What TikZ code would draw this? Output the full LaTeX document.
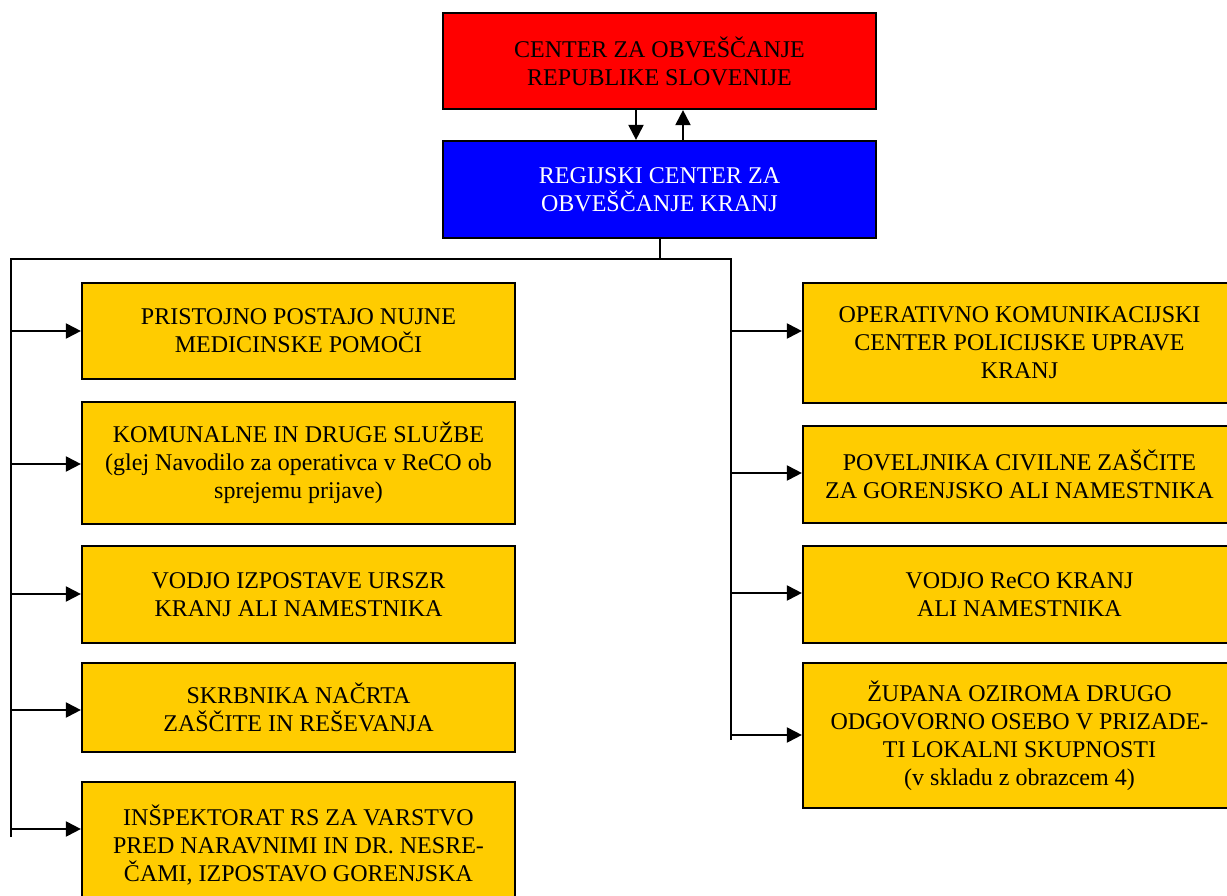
\documentclass[tikz,border=0pt]{standalone}
\usepackage{fontspec}
\setmainfont{Liberation Serif}
\usetikzlibrary{arrows.meta}
\definecolor{crvena}{HTML}{FF0000}
\definecolor{modra}{HTML}{0000FF}
\definecolor{rumena}{HTML}{FFCC00}
\begin{document}
\begin{tikzpicture}[x=1pt,y=-1pt,
  box/.style={draw=black,line width=2.2pt,minimum width=433pt,align=center,inner sep=0pt,
    font=\fontsize{24}{28}\selectfont},
  ybox/.style={box,fill=rumena},
  vod/.style={line width=2pt},
  puscica/.style={vod,-{Triangle[length=15pt,width=15pt]}}]
\useasboundingbox (0,0) rectangle (1227,896);
\pgfmathsetmacro{\lx}{298.5}
\pgfmathsetmacro{\rx}{1019.5}
\node[box,fill=crvena,minimum height=96pt] (center) at (659.5,61) {CENTER ZA OBVEŠČANJE\\REPUBLIKE SLOVENIJE};
\node[box,fill=modra,text=white,minimum height=97pt] (regija) at (659.5,189.5) {REGIJSKI CENTER ZA\\OBVEŠČANJE KRANJ};
\node[ybox,minimum height=96pt] (pnmp) at (\lx,331) {PRISTOJNO POSTAJO NUJNE\\MEDICINSKE POMOČI};
\node[ybox,minimum height=122pt] (komunala) at (\lx,463) {KOMUNALNE IN DRUGE SLUŽBE\\(glej Navodilo za operativca v ReCO ob\\sprejemu prijave)};
\node[ybox,minimum height=97pt] (urszr) at (\lx,594.5) {VODJO IZPOSTAVE URSZR\\KRANJ ALI NAMESTNIKA};
\node[ybox,minimum height=89pt] (skrbnik) at (\lx,707.5) {SKRBNIKA NAČRTA\\ZAŠČITE IN REŠEVANJA};
\node[ybox,minimum height=126pt] (inspektorat) at (\lx,845) {INŠPEKTORAT RS ZA VARSTVO\\PRED NARAVNIMI IN DR. NESRE-\\ČAMI, IZPOSTAVO GORENJSKA};
\node[ybox,minimum height=120pt] (okc) at (\rx,343) {OPERATIVNO KOMUNIKACIJSKI\\CENTER POLICIJSKE UPRAVE\\KRANJ};
\node[ybox,minimum height=97pt] (poveljnik) at (\rx,474.5) {POVELJNIKA CIVILNE ZAŠČITE\\ZA GORENJSKO ALI NAMESTNIKA};
\node[ybox,minimum height=97pt] (reco) at (\rx,594.5) {VODJO ReCO KRANJ\\ALI NAMESTNIKA};
\node[ybox,minimum height=145pt] (zupan) at (\rx,735.5) {ŽUPANA OZIROMA DRUGO\\ODGOVORNO OSEBO V PRIZADE-\\TI LOKALNI SKUPNOSTI\\(v skladu z obrazcem 4)};
\coordinate (dol) at (636,0);
\coordinate (gor) at (683,0);
\draw[puscica] (dol |- center.south) -- (dol |- regija.north);
\draw[puscica] (gor |- regija.north) -- (gor |- center.south);
\coordinate (vrhL) at (11,259);
\coordinate (vrhD) at (731,259);
\coordinate (dnoL) at (11,837);
\coordinate (dnoD) at (731,740);
\draw[vod] (regija.south) -- (regija.south |- vrhL);
\draw[vod] (dnoL) -- (vrhL) -- (vrhD) -- (dnoD);
\foreach \y/\n [count=\i] in {331/pnmp,464/komunala,594/urszr,710/skrbnik,829/inspektorat}{
  \coordinate (L\i) at (11,\y);
  \draw[puscica] (L\i) -- (L\i -| \n.west);
}
\foreach \y/\n [count=\i] in {331/okc,473/poveljnik,593/reco,735/zupan}{
  \coordinate (D\i) at (731,\y);
  \draw[puscica] (D\i) -- (D\i -| \n.west);
}
\end{tikzpicture}
\end{document}
